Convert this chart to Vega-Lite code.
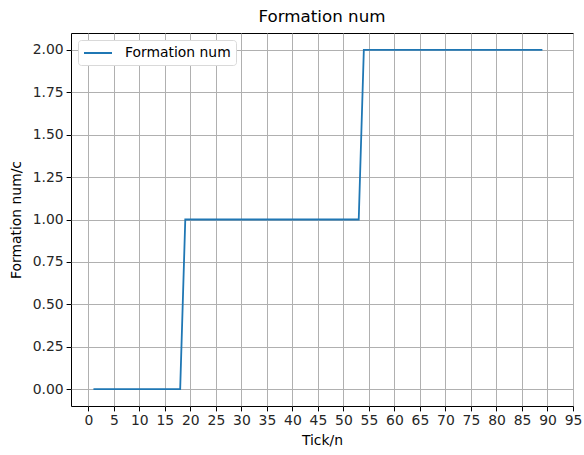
{
  "$schema": "https://vega.github.io/schema/vega-lite/v6.json",
  "autosize": {"type": "none"},
  "width": 502,
  "height": 373,
  "padding": {"left": 71, "top": 33, "right": 11, "bottom": 49},
  "background": "white",
  "title": {"text": "Formation num", "fontSize": 16.7, "font": "DejaVu Sans", "fontWeight": "normal", "color": "#000000", "anchor": "middle", "offset": 7},
  "config": {
    "view": {"stroke": "#000000", "strokeWidth": 1},
    "font": "DejaVu Sans",
    "axis": {
      "labelFont": "DejaVu Sans", "labelFontSize": 13.9, "labelColor": "#262626",
      "titleFont": "DejaVu Sans", "titleFontSize": 13.9, "titleFontWeight": "normal", "titleColor": "#000000",
      "domain": false, "tickColor": "#000000", "tickSize": 4.9, "tickWidth": 1,
      "gridColor": "#b0b0b0", "gridWidth": 1, "gridOpacity": 1, "labelPadding": 3
    },
    "legend": {
      "labelFont": "DejaVu Sans", "labelFontSize": 13.9, "labelColor": "#000000",
      "strokeColor": "#d9d9d9", "fillColor": "#ffffff", "cornerRadius": 3, "padding": 5,
      "symbolType": "M-2,0H2", "symbolStrokeWidth": 2, "symbolSize": 196, "symbolOffset": 7, "labelOffset": 19
    }
  },
  "data": {"values": [
    {"tick": 1, "num": 0}, {"tick": 2, "num": 0}, {"tick": 3, "num": 0}, {"tick": 4, "num": 0}, {"tick": 5, "num": 0},
    {"tick": 6, "num": 0}, {"tick": 7, "num": 0}, {"tick": 8, "num": 0}, {"tick": 9, "num": 0}, {"tick": 10, "num": 0},
    {"tick": 11, "num": 0}, {"tick": 12, "num": 0}, {"tick": 13, "num": 0}, {"tick": 14, "num": 0}, {"tick": 15, "num": 0},
    {"tick": 16, "num": 0}, {"tick": 17, "num": 0}, {"tick": 18, "num": 0}, {"tick": 19, "num": 1}, {"tick": 20, "num": 1},
    {"tick": 21, "num": 1}, {"tick": 22, "num": 1}, {"tick": 23, "num": 1}, {"tick": 24, "num": 1}, {"tick": 25, "num": 1},
    {"tick": 26, "num": 1}, {"tick": 27, "num": 1}, {"tick": 28, "num": 1}, {"tick": 29, "num": 1}, {"tick": 30, "num": 1},
    {"tick": 31, "num": 1}, {"tick": 32, "num": 1}, {"tick": 33, "num": 1}, {"tick": 34, "num": 1}, {"tick": 35, "num": 1},
    {"tick": 36, "num": 1}, {"tick": 37, "num": 1}, {"tick": 38, "num": 1}, {"tick": 39, "num": 1}, {"tick": 40, "num": 1},
    {"tick": 41, "num": 1}, {"tick": 42, "num": 1}, {"tick": 43, "num": 1}, {"tick": 44, "num": 1}, {"tick": 45, "num": 1},
    {"tick": 46, "num": 1}, {"tick": 47, "num": 1}, {"tick": 48, "num": 1}, {"tick": 49, "num": 1}, {"tick": 50, "num": 1},
    {"tick": 51, "num": 1}, {"tick": 52, "num": 1}, {"tick": 53, "num": 1}, {"tick": 54, "num": 2}, {"tick": 55, "num": 2},
    {"tick": 56, "num": 2}, {"tick": 57, "num": 2}, {"tick": 58, "num": 2}, {"tick": 59, "num": 2}, {"tick": 60, "num": 2},
    {"tick": 61, "num": 2}, {"tick": 62, "num": 2}, {"tick": 63, "num": 2}, {"tick": 64, "num": 2}, {"tick": 65, "num": 2},
    {"tick": 66, "num": 2}, {"tick": 67, "num": 2}, {"tick": 68, "num": 2}, {"tick": 69, "num": 2}, {"tick": 70, "num": 2},
    {"tick": 71, "num": 2}, {"tick": 72, "num": 2}, {"tick": 73, "num": 2}, {"tick": 74, "num": 2}, {"tick": 75, "num": 2},
    {"tick": 76, "num": 2}, {"tick": 77, "num": 2}, {"tick": 78, "num": 2}, {"tick": 79, "num": 2}, {"tick": 80, "num": 2},
    {"tick": 81, "num": 2}, {"tick": 82, "num": 2}, {"tick": 83, "num": 2}, {"tick": 84, "num": 2}, {"tick": 85, "num": 2},
    {"tick": 86, "num": 2}, {"tick": 87, "num": 2}, {"tick": 88, "num": 2}, {"tick": 89, "num": 2}
  ]},
  "mark": {"type": "line", "strokeWidth": 1.8, "interpolate": "linear"},
  "encoding": {
    "x": {"field": "tick", "type": "quantitative",
      "scale": {"domain": [-3.4, 95], "nice": false, "zero": false},
      "axis": {"title": "Tick/n", "values": [0,5,10,15,20,25,30,35,40,45,50,55,60,65,70,75,80,85,90,95], "grid": true, "labelFlush": false, "labelOverlap": false, "titlePadding": 6}},
    "y": {"field": "num", "type": "quantitative",
      "scale": {"domain": [-0.1, 2.1], "nice": false, "zero": false},
      "axis": {"title": "Formation num/c", "values": [0,0.25,0.5,0.75,1,1.25,1.5,1.75,2], "format": ".2f", "grid": true, "titlePadding": 9}},
    "color": {"datum": "Formation num", "type": "nominal",
      "scale": {"range": ["#1f77b4"]},
      "legend": {"title": null, "orient": "top-left", "offset": 7}}
  }
}
